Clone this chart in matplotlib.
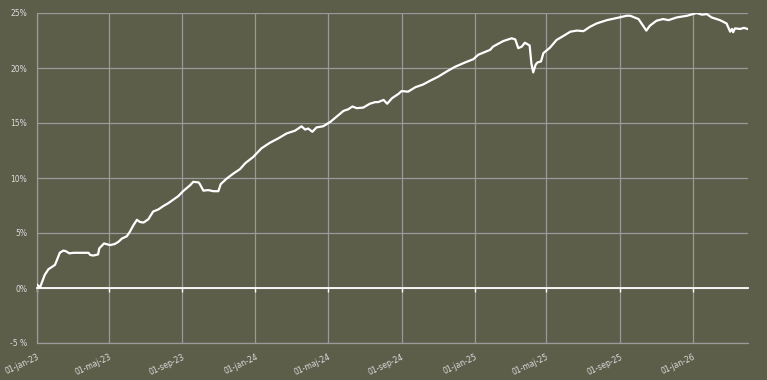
import matplotlib
matplotlib.use("Agg")
import matplotlib.pyplot as plt
import matplotlib.dates as mdates
import matplotlib.ticker as mticker
import pandas as pd

dates = [
    "2023-01-01", "2023-01-06", "2023-01-14", "2023-01-20", "2023-01-31", "2023-02-03",
    "2023-02-08", "2023-02-14", "2023-02-18", "2023-02-24", "2023-03-03", "2023-03-28",
    "2023-03-31", "2023-04-05", "2023-04-13", "2023-04-15", "2023-04-23", "2023-05-03",
    "2023-05-11", "2023-05-17", "2023-05-23", "2023-05-31", "2023-06-05", "2023-06-11",
    "2023-06-17", "2023-06-22", "2023-06-28", "2023-07-06", "2023-07-14", "2023-07-23",
    "2023-07-31", "2023-08-08", "2023-08-17", "2023-08-25", "2023-09-02", "2023-09-14",
    "2023-09-19", "2023-09-28", "2023-09-30", "2023-10-06", "2023-10-14", "2023-10-23",
    "2023-10-31", "2023-11-04", "2023-11-14", "2023-11-25", "2023-12-06", "2023-12-15",
    "2023-12-28", "2024-01-11", "2024-01-25", "2024-02-08", "2024-02-22", "2024-03-07",
    "2024-03-18", "2024-03-24", "2024-03-29", "2024-04-05", "2024-04-12", "2024-04-23",
    "2024-05-05", "2024-05-16", "2024-05-27", "2024-06-04", "2024-06-11", "2024-06-18",
    "2024-06-29", "2024-07-10", "2024-07-19", "2024-07-24", "2024-08-02", "2024-08-08",
    "2024-08-16", "2024-08-27", "2024-09-01", "2024-09-12", "2024-09-24", "2024-10-07",
    "2024-10-19", "2024-11-01", "2024-11-16", "2024-11-29", "2024-12-16", "2024-12-30",
    "2025-01-07", "2025-01-27", "2025-02-01", "2025-02-18", "2025-03-04", "2025-03-10",
    "2025-03-15", "2025-03-21", "2025-03-26", "2025-04-03", "2025-04-06", "2025-04-09",
    "2025-04-13", "2025-04-16", "2025-04-22", "2025-04-26", "2025-05-07", "2025-05-18",
    "2025-05-29", "2025-06-10", "2025-06-21", "2025-07-02", "2025-07-13", "2025-07-24",
    "2025-08-10", "2025-08-27", "2025-09-12", "2025-09-18", "2025-10-02", "2025-10-07",
    "2025-10-15", "2025-10-21", "2025-11-01", "2025-11-12", "2025-11-21", "2025-12-05",
    "2025-12-22", "2026-01-07", "2026-01-16", "2026-01-24", "2026-02-01", "2026-02-15",
    "2026-02-26", "2026-03-04", "2026-03-07", "2026-03-09", "2026-03-12", "2026-03-21",
    "2026-03-27", "2026-04-02",
]
returns_pct = [
    0.3, 0.05, 1.2, 1.7, 2.1, 2.5,
    3.2, 3.4, 3.35, 3.15, 3.2, 3.2,
    3.0, 2.95, 3.05, 3.6, 4.05, 3.9,
    4.0, 4.2, 4.5, 4.7, 5.1, 5.7,
    6.2, 6.0, 5.95, 6.25, 6.95, 7.15,
    7.45, 7.7, 8.05, 8.35, 8.8, 9.35,
    9.65, 9.6, 9.45, 8.85, 8.9, 8.8,
    8.8, 9.45, 9.95, 10.4, 10.8, 11.35,
    11.9, 12.7, 13.2, 13.6, 14.05, 14.3,
    14.7, 14.4, 14.5, 14.2, 14.6, 14.7,
    15.1, 15.6, 16.1, 16.25, 16.5, 16.35,
    16.4, 16.75, 16.9, 16.9, 17.1, 16.75,
    17.25, 17.65, 17.9, 17.85, 18.25, 18.5,
    18.85, 19.2, 19.7, 20.1, 20.5, 20.8,
    21.2, 21.65, 21.95, 22.45, 22.7, 22.6,
    21.8, 21.95, 22.3, 22.05, 20.4, 19.6,
    20.3, 20.5, 20.6, 21.35, 21.85, 22.55,
    22.9, 23.3, 23.4, 23.35, 23.75, 24.05,
    24.35, 24.55, 24.75, 24.75, 24.45, 24.05,
    23.4, 23.85, 24.3, 24.45, 24.35, 24.6,
    24.75, 25.0, 24.85, 24.9, 24.6, 24.35,
    24.05, 23.3, 23.55, 23.25, 23.6, 23.55,
    23.65, 23.55,
]
x_tick_dates = ["2023-01-01", "2023-05-01", "2023-09-01", "2024-01-01", "2024-05-01",
                "2024-09-01", "2025-01-01", "2025-05-01", "2025-09-01", "2026-01-01"]
x_tick_labels = ["01-jan-23", "01-maj-23", "01-sep-23", "01-jan-24", "01-maj-24",
                 "01-sep-24", "01-jan-25", "01-maj-25", "01-sep-25", "01-jan-26"]
y_ticks = [-5, 0, 5, 10, 15, 20, 25]
y_tick_labels = ["-5 %", "0%", "5%", "10%", "15%", "20%", "25%"]

bg = "#5c5e4a"
grid_c = "#9a9a9a"
txt_c = "#dcdcdc"

x = pd.to_datetime(dates)
xt = pd.to_datetime(x_tick_dates)

fig = plt.figure(figsize=(7.67, 3.80), dpi=100, facecolor=bg)
ax = fig.add_axes([37 / 767, 1 - 343 / 380, (747.5 - 37) / 767, (343 - 13) / 380])
ax.set_facecolor(bg)

ax.set_xlim(x[0], x[-1])
ax.set_ylim(-5, 25)

ax.set_yticks(y_ticks)
ax.set_yticklabels(y_tick_labels)
ax.set_xticks(xt)
ax.grid(True, color=grid_c, linewidth=0.9)
ax.set_axisbelow(True)

for s in ["top", "right"]:
    ax.spines[s].set_visible(False)
ax.spines["left"].set_color(grid_c)
ax.spines["left"].set_linewidth(0.9)
# main x axis at zero: tick marks only
ax.spines["bottom"].set_position(("data", 0))
ax.spines["bottom"].set_color("white")
ax.spines["bottom"].set_linewidth(1.3)
ax.tick_params(axis="x", colors="white", length=3, width=1, direction="out",
               labelbottom=False)
ax.tick_params(axis="y", length=0, labelsize=5.5, labelcolor=txt_c, pad=7)

sec = ax.secondary_xaxis(0.0)
sec.set_xticks(xt)
sec.set_xticklabels(x_tick_labels, rotation=25, ha="right", rotation_mode="anchor")
sec.tick_params(axis="x", length=0, labelsize=5.5, labelcolor=txt_c, pad=7)
sec.spines["bottom"].set_color(grid_c)
sec.spines["bottom"].set_linewidth(0.9)

ax.plot(x, returns_pct, color="white", linewidth=1.6, solid_joinstyle="round", zorder=3)

fig.savefig("out.png", dpi=100, facecolor=bg)
